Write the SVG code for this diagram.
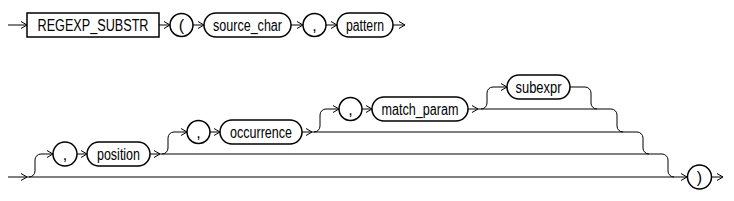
<svg xmlns="http://www.w3.org/2000/svg" width="734" height="201" viewBox="0 0 734 201">
<defs>
<style>
.n{fill:#fff;stroke:#000;stroke-width:1.5}
.t{font-family:"Liberation Sans Narrow","Liberation Sans",Arial,sans-serif;font-size:16px;fill:#000;text-anchor:middle}
.c path{fill:none;stroke:#000;stroke-width:1}
</style>
<marker id="a" viewBox="0 0 6 8" refX="6" refY="4" markerWidth="6" markerHeight="8" markerUnits="userSpaceOnUse" orient="auto">
<path d="M0,0.5 L6,4 L0,7.5" fill="none" stroke="#000" stroke-width="1"/>
</marker>
</defs>
<rect width="734" height="201" fill="#fff"/>
<g class="c" id="connectors">
<path d="M8,25 H27" marker-end="url(#a)"/>
<path d="M159,25 H170" marker-end="url(#a)"/>
<path d="M193,25 H204" marker-end="url(#a)"/>
<path d="M291,25 H303" marker-end="url(#a)"/>
<path d="M326,25 H337" marker-end="url(#a)"/>
<path d="M393,25 H405" marker-end="url(#a)"/>
<path d="M8,177 H27" marker-end="url(#a)"/>
<path d="M27,177 H687" marker-end="url(#a)"/>
<path d="M712,177 H723" marker-end="url(#a)"/>
<path d="M29,177 A6,6 0 0 0 35,171 V160 A6,6 0 0 1 41,154 H53" marker-end="url(#a)"/>
<path d="M77,154 H87" marker-end="url(#a)"/>
<path d="M150,154 H160" marker-end="url(#a)"/>
<path d="M160,154 H662 A6,6 0 0 1 668,160 V171 A6,6 0 0 0 674,177"/>
<path d="M162,154 A6,6 0 0 0 168,148 V138 A6,6 0 0 1 174,132 H187" marker-end="url(#a)"/>
<path d="M210,132 H220" marker-end="url(#a)"/>
<path d="M302,132 H312" marker-end="url(#a)"/>
<path d="M312,132 H637 A6,6 0 0 1 643,138 V148 A6,6 0 0 0 649,154"/>
<path d="M314,132 A6,6 0 0 0 320,126 V115 A6,6 0 0 1 326,109 H339" marker-end="url(#a)"/>
<path d="M362,109 H372" marker-end="url(#a)"/>
<path d="M468,109 H478" marker-end="url(#a)"/>
<path d="M478,109 H611 A6,6 0 0 1 617,115 V126 A6,6 0 0 0 623,132"/>
<path d="M481,109 A6,6 0 0 0 487,103 V93 A6,6 0 0 1 493,87 H507" marker-end="url(#a)"/>
<path d="M570,87 H585 A6,6 0 0 1 591,93 V103 A6,6 0 0 0 597,109"/>
</g>
<g id="regexp_substr"><rect class="n" x="27" y="13" width="132" height="24"/><text class="t" x="93" y="31" textLength="111" lengthAdjust="spacingAndGlyphs">REGEXP_SUBSTR</text></g>
<g id="lparen"><circle class="n" cx="181.5" cy="25" r="11.5"/><text class="t" x="181.5" y="31">(</text></g>
<g id="source_char"><rect class="n" x="204" y="13" width="87" height="24" rx="12"/><text class="t" x="247.5" y="31" textLength="69" lengthAdjust="spacingAndGlyphs">source_char</text></g>
<g id="comma1"><circle class="n" cx="314.5" cy="25" r="11.5"/><text class="t" x="314.5" y="31">,</text></g>
<g id="pattern"><rect class="n" x="337" y="13" width="56" height="24" rx="12"/><text class="t" x="365" y="31" textLength="38" lengthAdjust="spacingAndGlyphs">pattern</text></g>
<g id="comma2"><circle class="n" cx="65" cy="154" r="12"/><text class="t" x="65" y="160">,</text></g>
<g id="position"><rect class="n" x="87" y="142" width="63" height="24" rx="12"/><text class="t" x="118.5" y="160" textLength="43" lengthAdjust="spacingAndGlyphs">position</text></g>
<g id="comma3"><circle class="n" cx="198.5" cy="132" r="11.5"/><text class="t" x="198.5" y="138">,</text></g>
<g id="occurrence"><rect class="n" x="220" y="120" width="82" height="24" rx="12"/><text class="t" x="261" y="138" textLength="62" lengthAdjust="spacingAndGlyphs">occurrence</text></g>
<g id="comma4"><circle class="n" cx="350.5" cy="109" r="11.5"/><text class="t" x="350.5" y="115">,</text></g>
<g id="match_param"><rect class="n" x="372" y="97" width="96" height="24" rx="12"/><text class="t" x="420" y="115" textLength="77" lengthAdjust="spacingAndGlyphs">match_param</text></g>
<g id="subexpr"><rect class="n" x="507" y="75" width="63" height="24" rx="12"/><text class="t" x="538.5" y="93" textLength="46" lengthAdjust="spacingAndGlyphs">subexpr</text></g>
<g id="rparen"><circle class="n" cx="699.5" cy="177" r="12"/><text class="t" x="699.5" y="183">)</text></g>
</svg>
